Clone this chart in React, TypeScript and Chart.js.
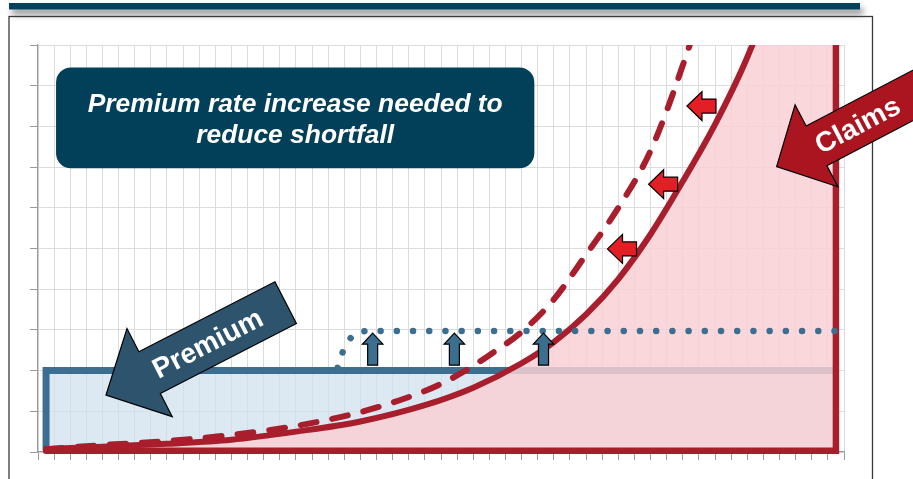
import React, { useEffect, useRef } from "react";
import { Chart, registerables } from "chart.js";

Chart.register(...registerables);

// ---------- data (x in grid units 0..50, y in grid units 0..10) ----------
const xMin = 0;
const xMax = 50;
const yMin = 0;
const yMax = 10;

// Claims (solid curve)
const claimsX = [0.5, 4, 8, 12, 16, 20, 24, 27, 30, 32, 34, 36, 38, 40, 42, 44, 46, 49.5];
const claimsY = [0.07, 0.13, 0.2, 0.3, 0.5, 0.75, 1.15, 1.58, 2.18, 2.7, 3.38, 4.25, 5.35, 6.65, 8.05, 9.7, 11.8, 17];

// Claims after shortfall reduction (dashed curve)
const reducedX = [0.5, 4, 8, 12, 16, 20, 24, 26, 28, 30, 32, 34, 36, 38, 40, 42, 44];
const reducedY = [0.07, 0.17, 0.27, 0.42, 0.64, 0.98, 1.5, 1.88, 2.38, 2.95, 3.75, 4.85, 6.0, 7.4, 9.5, 12, 15];

// Premium (box)
const premiumX = [0.5, 0.5, 49.5];
const premiumY = [0.05, 2, 2];

// Increased premium (dotted)
const raisedX = [18.58, 19.0, 19.6, 20.3, 49.5];
const raisedY = [2.07, 2.55, 2.88, 2.97, 2.97];

// Claims box edges (bottom + right side)
const edgeX = [0.5, 49.5, 49.5];
const edgeY = [0.03, 0.03, 10.5];

// Texts
const titleLines = ["Premium rate increase needed to", "reduce shortfall"];
const premiumLabel = "Premium";
const claimsLabel = "Claims";

// Annotation anchors (data units)
const upArrowX = [20.76, 25.83, 31.36];
const upArrowTip = 2.92;
const leftArrowTipX = [40.26, 37.88, 35.33];
const leftArrowTipY = [8.5, 6.58, 4.99];
const titleBox = { x0: 1.12, x1: 30.79, y0: 6.97, y1: 9.45 };
const premiumArrowTip = { x: 4.22, y: 1.4 };
const claimsArrowTip = { x: 45.82, y: 7.01 };

const toPts = (xs: number[], ys: number[]) => xs.map((x, i) => ({ x, y: ys[i] }));

const RED = "#a81e2d";
const BLUE = "#3c6e8f";

function blockArrow(
  ctx: CanvasRenderingContext2D,
  tx: number,
  ty: number,
  angleDeg: number,
  total: number,
  head: number,
  headW: number,
  shaftW: number,
  fill: string
) {
  const a = (angleDeg * Math.PI) / 180;
  const dx = Math.cos(a), dy = Math.sin(a);
  const nx = -Math.sin(a), ny = Math.cos(a);
  const local = [
    [0, 0],
    [head, -headW / 2],
    [head, -shaftW / 2],
    [total, -shaftW / 2],
    [total, shaftW / 2],
    [head, shaftW / 2],
    [head, headW / 2],
  ];
  ctx.beginPath();
  local.forEach(([u, v], i) => {
    const px = tx + u * dx + v * nx;
    const py = ty + u * dy + v * ny;
    if (i === 0) ctx.moveTo(px, py);
    else ctx.lineTo(px, py);
  });
  ctx.closePath();
  ctx.fillStyle = fill;
  ctx.fill();
  ctx.lineWidth = 1.2;
  ctx.lineJoin = "miter";
  ctx.strokeStyle = "#000";
  ctx.stroke();
}

function arrowLabel(
  ctx: CanvasRenderingContext2D,
  tx: number,
  ty: number,
  angleDeg: number,
  along: number,
  perp: number,
  text: string
) {
  const a = (angleDeg * Math.PI) / 180;
  const cx = tx + along * Math.cos(a) - perp * Math.sin(a);
  const cy = ty + along * Math.sin(a) + perp * Math.cos(a);
  ctx.save();
  ctx.translate(cx, cy);
  ctx.rotate(a);
  ctx.fillStyle = "#ffffff";
  ctx.font = 'bold 28px "Liberation Sans", Arial, sans-serif';
  ctx.textAlign = "center";
  ctx.textBaseline = "middle";
  ctx.fillText(text, 0, 0);
  ctx.restore();
}

const decorPlugin = {
  id: "decor",
  beforeDraw(chart: any) {
    const ctx: CanvasRenderingContext2D = chart.ctx;
    const W = chart.width;
    ctx.save();
    ctx.fillStyle = "#ffffff";
    ctx.fillRect(0, 0, W, chart.height);
    ctx.shadowColor = "rgba(0,0,0,0.45)";
    ctx.shadowBlur = 6;
    ctx.shadowOffsetX = 3;
    ctx.shadowOffsetY = 5;
    ctx.fillStyle = "#03425b";
    ctx.fillRect(9, 3, 851, 6.5);
    ctx.restore();
    ctx.save();
    ctx.strokeStyle = "#3a3a3a";
    ctx.lineWidth = 1.3;
    ctx.strokeRect(9, 16.5, 863.5, 520);
    ctx.restore();
  },
  afterDraw(chart: any) {
    const ctx: CanvasRenderingContext2D = chart.ctx;
    const xs = chart.scales.x;
    const ys = chart.scales.y;
    const px = (v: number) => xs.getPixelForValue(v);
    const py = (v: number) => ys.getPixelForValue(v);
    ctx.save();

    // title box
    const bx0 = px(titleBox.x0), bx1 = px(titleBox.x1);
    const by0 = py(titleBox.y1), by1 = py(titleBox.y0);
    ctx.beginPath();
    ctx.roundRect(bx0, by0, bx1 - bx0, by1 - by0, 15);
    ctx.fillStyle = "#02405a";
    ctx.fill();
    ctx.fillStyle = "#ffffff";
    ctx.font = 'italic bold 26.4px "Liberation Sans", Arial, sans-serif';
    ctx.textAlign = "center";
    ctx.textBaseline = "alphabetic";
    const cx = (bx0 + bx1) / 2;
    const cy = (by0 + by1) / 2;
    ctx.fillText(titleLines[0], cx, cy - 6.1);
    ctx.fillText(titleLines[1], cx, cy + 24.9);

    // up arrows
    upArrowX.forEach((x) => {
      blockArrow(ctx, px(x), py(upArrowTip), 90, 32, 11, 20.5, 10, BLUE);
    });
    // left arrows
    leftArrowTipX.forEach((x, i) => {
      blockArrow(ctx, px(x), py(leftArrowTipY[i]), 0, 29, 15, 29, 14, "#e31e24");
    });

    // premium arrow
    const pa = { x: px(premiumArrowTip.x), y: py(premiumArrowTip.y) };
    blockArrow(ctx, pa.x, pa.y, -27.2, 202, 49, 99, 47, "#2d536d");
    arrowLabel(ctx, pa.x, pa.y, -27.2, 114, 2, premiumLabel);

    // claims arrow
    const ca = { x: px(claimsArrowTip.x), y: py(claimsArrowTip.y) };
    blockArrow(ctx, ca.x, ca.y, -27.6, 260, 45, 92.5, 44.7, "#ab1520");
    arrowLabel(ctx, ca.x, ca.y, -27.6, 91, 2, claimsLabel);

    ctx.restore();
  },
};

export default function App() {
  const ref = useRef<HTMLCanvasElement | null>(null);
  useEffect(() => {
    document.body.style.margin = "0";
    const clipTop = { left: 6, right: 6, top: 0, bottom: 6 };
    const chart = new Chart(ref.current as HTMLCanvasElement, {
      type: "line",
      data: {
        datasets: [
          {
            label: "Increased premium",
            data: toPts(raisedX, raisedY),
            borderColor: BLUE,
            borderWidth: 6.5,
            borderDash: [0.01, 16.2],
            borderCapStyle: "round",
            cubicInterpolationMode: "monotone",
            pointRadius: 0,
            fill: false,
            order: 0,
            clip: clipTop,
          } as any,
          {
            label: "Claims edge",
            data: toPts(edgeX, edgeY),
            borderColor: RED,
            borderWidth: 6.5,
            borderCapStyle: "round",
            borderJoinStyle: "miter",
            tension: 0,
            pointRadius: 0,
            fill: false,
            order: 1,
            clip: clipTop,
          } as any,
          {
            label: "Reduced claims",
            data: toPts(reducedX, reducedY),
            borderColor: RED,
            borderWidth: 6,
            borderDash: [16, 16],
            borderCapStyle: "round",
            cubicInterpolationMode: "monotone",
            pointRadius: 0,
            fill: false,
            order: 2,
            clip: clipTop,
          } as any,
          {
            label: "Claims",
            data: toPts(claimsX, claimsY),
            borderColor: RED,
            borderWidth: 6,
            borderCapStyle: "round",
            cubicInterpolationMode: "monotone",
            pointRadius: 0,
            fill: "origin",
            backgroundColor: "rgba(249,208,213,0.85)",
            order: 3,
            clip: clipTop,
          } as any,
          {
            label: "Premium",
            data: toPts(premiumX, premiumY),
            borderColor: BLUE,
            borderWidth: 7,
            borderJoinStyle: "miter",
            tension: 0,
            pointRadius: 0,
            fill: "origin",
            backgroundColor: "rgba(205,224,237,0.7)",
            order: 4,
            clip: clipTop,
          } as any,
        ],
      },
      options: {
        responsive: false,
        animation: false,
        devicePixelRatio: 1,
        layout: { padding: { left: 30, right: 69, top: 45, bottom: 19 } },
        plugins: {
          legend: { display: false },
          tooltip: { enabled: false },
        },
        scales: {
          x: {
            type: "linear",
            min: xMin,
            max: xMax,
            ticks: { display: false, stepSize: 1 },
            grid: { color: "#dcdcdc", lineWidth: 1, tickLength: 8, tickColor: "#9a9a9a" },
            border: { color: "#9a9a9a", width: 1.2 },
            afterFit: (s: any) => { s.height = 8; },
          },
          y: {
            type: "linear",
            min: yMin,
            max: yMax,
            ticks: { display: false, stepSize: 1 },
            grid: { color: "#dcdcdc", lineWidth: 1, tickLength: 8, tickColor: "#9a9a9a" },
            border: { color: "#9a9a9a", width: 1.2 },
            afterFit: (s: any) => { s.width = 8; },
          },
        },
      } as any,
      plugins: [decorPlugin],
    });
    return () => chart.destroy();
  }, []);
  return (
    <div style={{ width: 913, height: 479 }}>
      <canvas ref={ref} width={913} height={479} style={{ display: "block", width: 913, height: 479 }} />
    </div>
  );
}
